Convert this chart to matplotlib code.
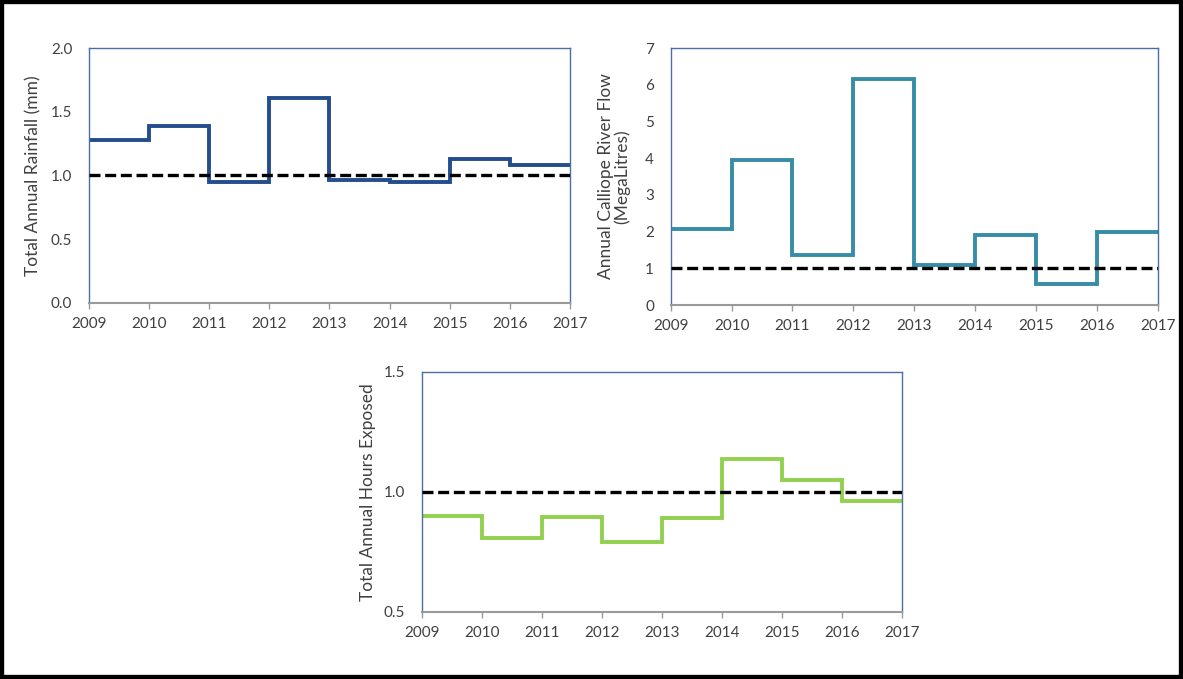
import numpy as np
import matplotlib.pyplot as plt
from matplotlib.patches import Rectangle

years = np.arange(2009, 2018)

rainfall = [1.28, 1.39, 0.95, 1.61, 0.965, 0.95, 1.13, 1.08]
river_flow = [2.07, 3.95, 1.35, 6.15, 1.09, 1.90, 0.56, 1.98]
hours_exposed = [0.90, 0.806, 0.896, 0.789, 0.889, 1.137, 1.049, 0.962]

plt.rcParams['font.family'] = ['Lato', 'DejaVu Sans']
text_col = '#404040'

fig = plt.figure(figsize=(11.83, 6.79), dpi=100)


def panel(rect, values, color, ylim, yticks, yfmt, ylabel, label_x):
    ax = fig.add_axes(rect)
    ax.stairs(values, years, baseline=None, color=color, lw=2.8, zorder=2)
    ax.axhline(1.0, color='black', lw=2.4, dashes=(3.3, 1.4), zorder=3)
    ax.set_xlim(2009, 2017)
    ax.set_ylim(*ylim)
    ax.set_xticks(years)
    ax.set_yticks(yticks)
    ax.set_yticklabels([yfmt.format(v) for v in yticks])
    for s in ['left', 'top', 'right']:
        ax.spines[s].set_color('#4a6fa5')
        ax.spines[s].set_linewidth(1.0)
    ax.spines['bottom'].set_color('#9a9a9a')
    ax.spines['bottom'].set_linewidth(1.5)
    ax.tick_params(axis='x', length=4, width=1, color='#9a9a9a',
                   labelsize=11, labelcolor=text_col, pad=6)
    ax.tick_params(axis='y', length=0, labelsize=11, labelcolor=text_col, pad=12)
    ax.set_ylabel(ylabel, fontsize=12.5, color=text_col, linespacing=1.0)
    ax.yaxis.set_label_coords(label_x, 0.5)
    return ax


panel([0.0752, 0.5538, 0.4066, 0.3755], rainfall, '#234d8c',
      (0, 2), np.arange(0, 2.01, 0.5), '{:.1f}',
      'Total Annual Rainfall (mm)', -0.098)
panel([0.5669, 0.5508, 0.4120, 0.3785], river_flow, '#378da6',
      (0, 7), np.arange(0, 8), '{:.0f}',
      'Annual Calliope River Flow\n(MegaLitres)', -0.083)
panel([0.3566, 0.0991, 0.4059, 0.3535], hours_exposed, '#92d050',
      (0.5, 1.5), [0.5, 1.0, 1.5], '{:.1f}',
      'Total Annual Hours Exposed', -0.095)

# black frame round the whole figure
fig.patches.append(Rectangle((0, 0), 1, 1, transform=fig.transFigure,
                             fill=False, edgecolor='black', lw=6))

fig.savefig('out.png', dpi=100)
